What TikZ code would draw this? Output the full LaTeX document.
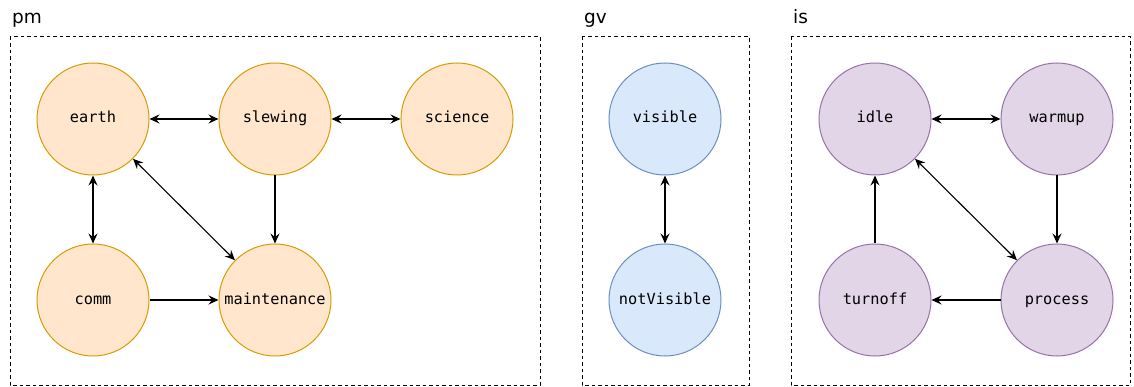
\documentclass[tikz,border=0pt]{standalone}
\usepackage{fontspec}
\setmainfont{DejaVu Sans}
\newfontfamily\statefont{DejaVu Sans Mono}
\usetikzlibrary{arrows.meta}
\definecolor{pmfill}{HTML}{FFE6CC}\definecolor{pmline}{HTML}{D79B00}
\definecolor{gvfill}{HTML}{DAE8FC}\definecolor{gvline}{HTML}{6C8EBF}
\definecolor{isfill}{HTML}{E1D5E7}\definecolor{isline}{HTML}{9673A6}
\tikzset{
  state/.style={circle, minimum size=112pt, inner sep=0pt, line width=1pt,
    text height=8pt, text depth=0pt,
    font=\statefont\fontsize{15.3}{17}\selectfont},
  pmstate/.style={state, fill=pmfill, draw=pmline},
  gvstate/.style={state, fill=gvfill, draw=gvline},
  isstate/.style={state, fill=isfill, draw=isline},
  group/.style={draw, line width=1pt, dash pattern=on 3.5pt off 3pt},
  grouplabel/.style={anchor=base west, inner sep=0pt, font=\fontsize{18.5}{22}\selectfont},
  tip/.tip={Stealth[length=10pt, width=9pt, inset=3.5pt]},
  link/.style={-tip, line width=1.1pt},
  bilink/.style={tip-tip, line width=1.1pt}
}
\begin{document}
\begin{tikzpicture}[x=1pt, y=-1pt]
\useasboundingbox (0,0) rectangle (1134,387);
% group frames
\draw[group] (10,37) rectangle (540,385);
\draw[group] (582,37) rectangle (749,385);
\draw[group] (791,37) rectangle (1130,385);
\node[grouplabel] (lpm) at (12,24) {pm};
\node[grouplabel] (lgv) at (584,24) {gv};
\node[grouplabel] (lis) at (793,24) {is};
% pm states
\node[pmstate] (earth) at (93,119) {earth};
\node[pmstate] (slewing) at (275,119) {slewing};
\node[pmstate] (science) at (457,119) {science};
\node[pmstate] (comm) at (93,300) {comm};
\node[pmstate] (maint) at (275,300) {maintenance};
% gv states
\node[gvstate] (visible) at (665,119) {visible};
\node[gvstate] (notvisible) at (665,300) {notVisible};
% is states
\node[isstate] (idle) at (875,119) {idle};
\node[isstate] (warmup) at (1057,119) {warmup};
\node[isstate] (turnoff) at (875,300) {turnoff};
\node[isstate] (process) at (1057,300) {process};
% pm transitions
\draw[bilink] (earth) -- (slewing);
\draw[bilink] (slewing) -- (science);
\draw[bilink] (earth) -- (comm);
\draw[bilink] (earth) -- (maint);
\draw[link] (slewing) -- (maint);
\draw[link] (comm) -- (maint);
% gv transitions
\draw[bilink] (visible) -- (notvisible);
% is transitions
\draw[bilink] (idle) -- (warmup);
\draw[bilink] (idle) -- (process);
\draw[link] (warmup) -- (process);
\draw[link] (process) -- (turnoff);
\draw[link] (turnoff) -- (idle);
\end{tikzpicture}
\end{document}
